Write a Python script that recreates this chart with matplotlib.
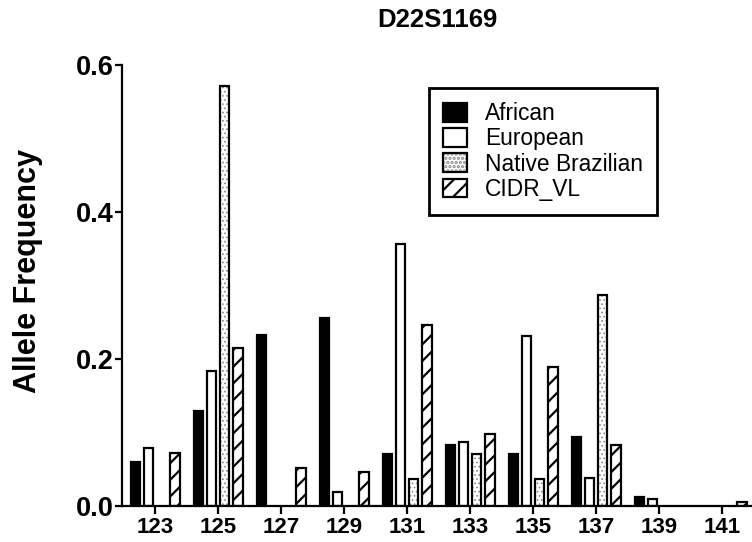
import matplotlib
matplotlib.use("Agg")
import matplotlib.pyplot as plt
import numpy as np
from matplotlib.legend_handler import HandlerTuple

plt.rcParams['font.family'] = ['Liberation Sans', 'DejaVu Sans']
plt.rcParams['hatch.linewidth'] = 1.6

title = "D22S1169"
categories = ["123", "125", "127", "129", "131", "133", "135", "137", "139", "141"]
series_names = ["African", "European", "Native Brazilian", "CIDR_VL"]
african = [0.059, 0.129, 0.233, 0.256, 0.070, 0.082, 0.070, 0.093, 0.012, 0.0]
european = [0.078, 0.183, 0.0, 0.019, 0.356, 0.087, 0.231, 0.038, 0.009, 0.0]
native = [0.0, 0.572, 0.0, 0.0, 0.036, 0.071, 0.036, 0.287, 0.0, 0.0]
cidr = [0.072, 0.215, 0.052, 0.046, 0.246, 0.097, 0.189, 0.082, 0.0, 0.005]
yticks = [0.0, 0.2, 0.4, 0.6]

fig = plt.figure(figsize=(7.52, 5.42), dpi=100)
ax = fig.add_axes([122/752, 1-505.7/542, 630/752, 440.7/542])

x = np.arange(len(categories))
step = 0.211
w = 0.145
lw = 1.6

b1 = ax.bar(x - 1.5*step, african, w, color='black', edgecolor='black', linewidth=lw, label=series_names[0])
b2 = ax.bar(x - 0.5*step, european, w, color='white', edgecolor='black', linewidth=lw, label=series_names[1])
# Native: dotted fill in gray, then black outline
b3h = ax.bar(x + 0.5*step, native, w, color='white', edgecolor='#888888', linewidth=0, hatch='....')
for p in b3h:
    if hasattr(p, 'set_hatch_linewidth'):
        p.set_hatch_linewidth(0.7)
b3o = ax.bar(x + 0.5*step, native, w, color='none', edgecolor='black', linewidth=lw)
b4 = ax.bar(x + 1.5*step, cidr, w, color='white', edgecolor='black', linewidth=lw, hatch='//')

# hide zero-height bars
for bars in (b1, b2, b3h, b3o, b4):
    for p in bars:
        if p.get_height() == 0:
            p.set_visible(False)

ax.set_xlim(-0.524, 9.476)
ax.set_ylim(0, 0.6)
ax.set_xticks(x)
ax.set_xticklabels(categories, fontsize=16, fontweight='bold')
ax.set_yticks(yticks)
ax.set_yticklabels([f"{v:.1f}" for v in yticks], fontsize=19.5, fontweight='bold')
for s in ('top', 'right'):
    ax.spines[s].set_visible(False)
for s in ('left', 'bottom'):
    ax.spines[s].set_linewidth(1.6)
ax.tick_params(axis='both', direction='out', length=6, width=1.6, pad=2)
ax.tick_params(axis='y', length=5, pad=1)

fig.text(437/752, 1-20/542, title, ha='center', va='center', fontsize=18.5, fontweight='bold')
fig.text(28/752, 1-271/542, "Allele Frequency", ha='center', va='center', rotation=90,
         fontsize=22, fontweight='bold')

leg = ax.legend([b1[0], b2[0], (b3h[1], b3o[1]), b4[0]], series_names,
                handler_map={tuple: HandlerTuple(ndivide=1, pad=0)},
                loc='upper left', bbox_to_anchor=(0.487, 0.948), fontsize=16.4,
                frameon=True, fancybox=False, framealpha=1, edgecolor='black',
                handlelength=1.05, handleheight=0.9, handletextpad=0.8,
                labelspacing=0.1, borderpad=0.62, borderaxespad=0)
leg.get_frame().set_linewidth(2)

fig.savefig("out.png", dpi=100)
